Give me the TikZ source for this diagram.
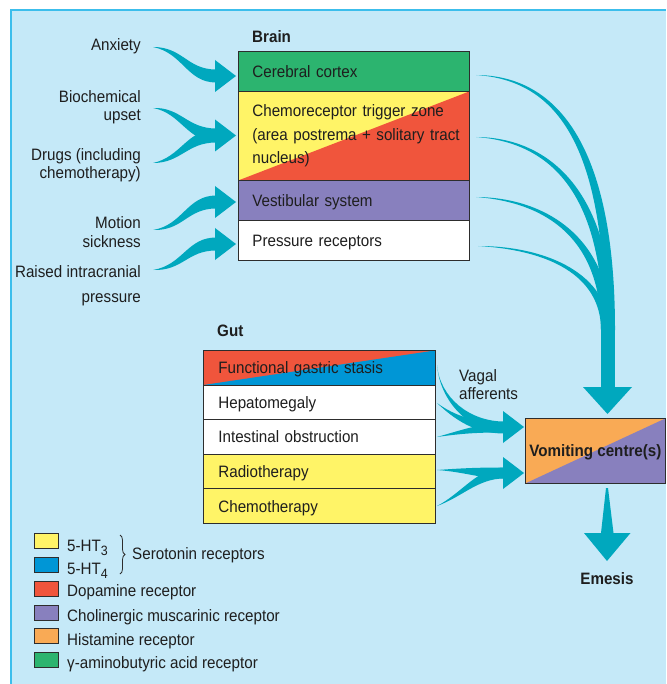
\documentclass[tikz,border=0pt]{standalone}
\usepackage{fontspec}
\setmainfont{Liberation Sans}[FakeStretch=0.92]
\usetikzlibrary{calc,decorations.pathreplacing}
\definecolor{bgblue}{RGB}{197,233,248}
\definecolor{edgeblue}{RGB}{60,190,236}
\definecolor{arrteal}{RGB}{0,168,190}
\definecolor{cgreen}{RGB}{44,180,111}
\definecolor{cyellow}{RGB}{255,244,103}
\definecolor{cred}{RGB}{240,85,60}
\definecolor{cpurple}{RGB}{136,128,190}
\definecolor{cblue}{RGB}{0,150,214}
\definecolor{corange}{RGB}{249,170,85}
\definecolor{boxline}{RGB}{45,45,45}
\definecolor{txt}{RGB}{30,30,30}
\newcommand\dgfont{\fontsize{16.5}{18}\selectfont}
% tapered band: start, c1, c2, end, half width at end, half width at c1
\newcommand\tprh[6]{\fill[arrteal] #1 .. controls ($#2+(0,-#6)$) and ($#3+(0,-#5)$) .. ($#4+(0,-#5)$) -- ($#4+(0,#5)$) .. controls ($#3+(0,#5)$) and ($#2+(0,#6)$) .. #1 -- cycle;}
\newcommand\tprv[6]{\fill[arrteal] #1 .. controls ($#2+(0,-#6)$) and ($#3+(#5,0)$) .. ($#4+(#5,0)$) -- ($#4+(-#5,0)$) .. controls ($#3+(-#5,0)$) and ($#2+(0,#6)$) .. #1 -- cycle;}
\newcommand\headr[1]{\fill[arrteal] ($#1+(0,-16)$) -- ($#1+(21,0)$) -- ($#1+(0,16)$) -- cycle;}
\tikzset{
  lbl/.style={font=\dgfont, text=txt, inner sep=0pt},
  hdr/.style={font=\bfseries\dgfont, text=txt, inner sep=0pt},
  bbox/.style={draw=boxline, line width=0.8pt, anchor=north west, inner xsep=14pt, inner ysep=0pt,
    minimum width=231pt, text width=203pt, align=left, font=\dgfont, text=txt},
  one/.style={text depth=0pt},
  gbox/.style={bbox, one, inner xsep=15pt, minimum width=232pt, text width=202pt, minimum height=34.6pt},
  diag/.style={path picture={\fill[#1] (path picture bounding box.south west) -- (path picture bounding box.north east) -- (path picture bounding box.south east) -- cycle;}},
  swatch/.style={draw=boxline, line width=0.8pt, minimum width=24pt, minimum height=15pt, inner sep=0pt},
  leg/.style={font=\dgfont, text=txt, inner sep=0pt, anchor=base west}
}
\begin{document}
\begin{tikzpicture}[x=1pt,y=-1pt]
\useasboundingbox (0,0) rectangle (666,684);
\fill[white] (0,0) rectangle (666,684);
\fill[bgblue] (10,9) rectangle (666,684);
\draw[edgeblue, line width=2pt] (11,684) -- (11,10) -- (666,10);

% ---- input arrows (left)
\tprh{(153,47)}{(183,50)}{(187,76)}{(216,76)}{6.5}{3}
\headr{(215,76)}
\tprh{(153,108)}{(181,110)}{(187,135)}{(216,135)}{6.5}{3}
\tprh{(153,163)}{(181,160)}{(187,136)}{(216,136)}{6.5}{3}
\headr{(215,135.5)}
\tprh{(153,230)}{(183,228)}{(187,202)}{(216,202)}{6.5}{3}
\headr{(215,202)}
\tprh{(153,270)}{(183,268)}{(187,244)}{(216,244)}{6.5}{3}
\headr{(215,244)}

% ---- brain -> vomiting centre
\tprv{(476,75)}{(560,78)}{(610,150)}{(610,330)}{5}{2.5}
\tprv{(476,137)}{(552,140)}{(608,195)}{(608,330)}{5}{2.5}
\tprv{(476,197)}{(548,200)}{(606,240)}{(606,330)}{5}{2.5}
\tprv{(478,246)}{(548,248)}{(605,275)}{(605,330)}{4}{2}
\fill[arrteal] (601,322) rectangle (615,389);
\fill[arrteal] (583,387) -- (632,387) -- (607.5,414) -- cycle;

% ---- vagal afferents
\tprh{(437,365)}{(440,400)}{(470,427)}{(504,427)}{5.5}{2}
\tprh{(437,403)}{(455,418)}{(475,428)}{(504,428)}{5.5}{2}
\tprh{(437,437)}{(465,431)}{(480,428)}{(504,428)}{4.5}{2}
\headr{(503,427)}
\tprh{(437,470)}{(465,470)}{(480,473)}{(504,473)}{5.5}{2}
\tprh{(437,506)}{(462,495)}{(478,473)}{(504,473)}{5.5}{2}
\headr{(503,473)}

% ---- emesis arrow
\fill[arrteal] (606,488) -- (608,488) -- (613.5,533) -- (630.5,533) -- (607,561) -- (584,533) -- (601,533) -- cycle;

% ---- left labels
\node[lbl, anchor=east] (anx) at (141,46) {Anxiety};
\node[lbl, anchor=east, align=right, font=\fontsize{16.5}{18}\selectfont] (bio) at (141,107) {Biochemical\\upset};
\node[lbl, anchor=east, align=right, font=\fontsize{16.5}{18}\selectfont] (drug) at (141,165) {Drugs (including\\chemotherapy)};
\node[lbl, anchor=east, align=right, font=\fontsize{16.5}{19}\selectfont] (mot) at (141,232) {Motion\\sickness};
\node[lbl, anchor=east, align=right, font=\fontsize{16.5}{25}\selectfont] (ric) at (141,286) {Raised intracranial\\pressure};

% ---- brain
\node[hdr, anchor=west] (brain) at (252,37) {Brain};
\node[bbox, one, fill=cgreen, minimum height=40pt] (cc) at (238,51) {Cerebral cortex};
\node[bbox, fill=cyellow, diag=cred, minimum height=89pt, font=\fontsize{16.5}{23.5}\selectfont] (ctz) at (238,91)
  {Chemoreceptor trigger zone\\\mbox{(area postrema + solitary tract}\\nucleus)};
\node[bbox, one, fill=cpurple, minimum height=40pt] (ves) at (238,180) {Vestibular system};
\node[bbox, one, fill=white, minimum height=40pt] (pr) at (238,220) {Pressure receptors};

% ---- gut
\node[hdr, anchor=west] (gut) at (217,331) {Gut};
\node[gbox, fill=cred, diag=cblue] (fg) at (203,350) {Functional gastric stasis};
\node[gbox, fill=white] (hep) at (203,384.6) {Hepatomegaly};
\node[gbox, fill=white] (io) at (203,419.2) {Intestinal obstruction};
\node[gbox, fill=cyellow] (rad) at (203,453.8) {Radiotherapy};
\node[gbox, fill=cyellow] (chem) at (203,488.4) {Chemotherapy};

\node[lbl, anchor=west, align=left] (vag) at (459,385) {Vagal\\afferents};

% ---- vomiting centre
\node[draw=boxline, line width=0.8pt, fill=corange, diag=cpurple, minimum width=140pt, minimum height=65pt,
  anchor=north west, font=\bfseries\dgfont, text=txt, inner sep=0pt, one] (vc) at (525,418) {Vomiting centre(s)};
\node[hdr] (em) at (607,579) {Emesis};

% ---- legend
\node[swatch, fill=cyellow] (s1) at (46,540.5) {};
\node[swatch, fill=cblue] (s2) at (46,564.5) {};
\node[swatch, fill=cred] (s3) at (46,588.5) {};
\node[swatch, fill=cpurple] (s4) at (46,612.5) {};
\node[swatch, fill=corange] (s5) at (46,636) {};
\node[swatch, fill=cgreen] (s6) at (46,659.5) {};
\node[leg] (l1) at (67,551) {5-HT\raisebox{-4pt}{\fontsize{13.5}{13.5}\selectfont 3}};
\node[leg] (l2) at (67,574) {5-HT\raisebox{-4pt}{\fontsize{13.5}{13.5}\selectfont 4}};
\node[leg] (l3) at (67,596) {Dopamine receptor};
\node[leg] (l4) at (67,621) {Cholinergic muscarinic receptor};
\node[leg] (l5) at (67,645) {Histamine receptor};
\node[leg] (l6) at (67,668) {γ-aminobutyric acid receptor};
\draw[boxline, line width=0.8pt, decorate, decoration={brace, amplitude=5pt}] (120,535) -- (120,574);
\node[leg] (sero) at (132,559) {Serotonin receptors};
\end{tikzpicture}
\end{document}
